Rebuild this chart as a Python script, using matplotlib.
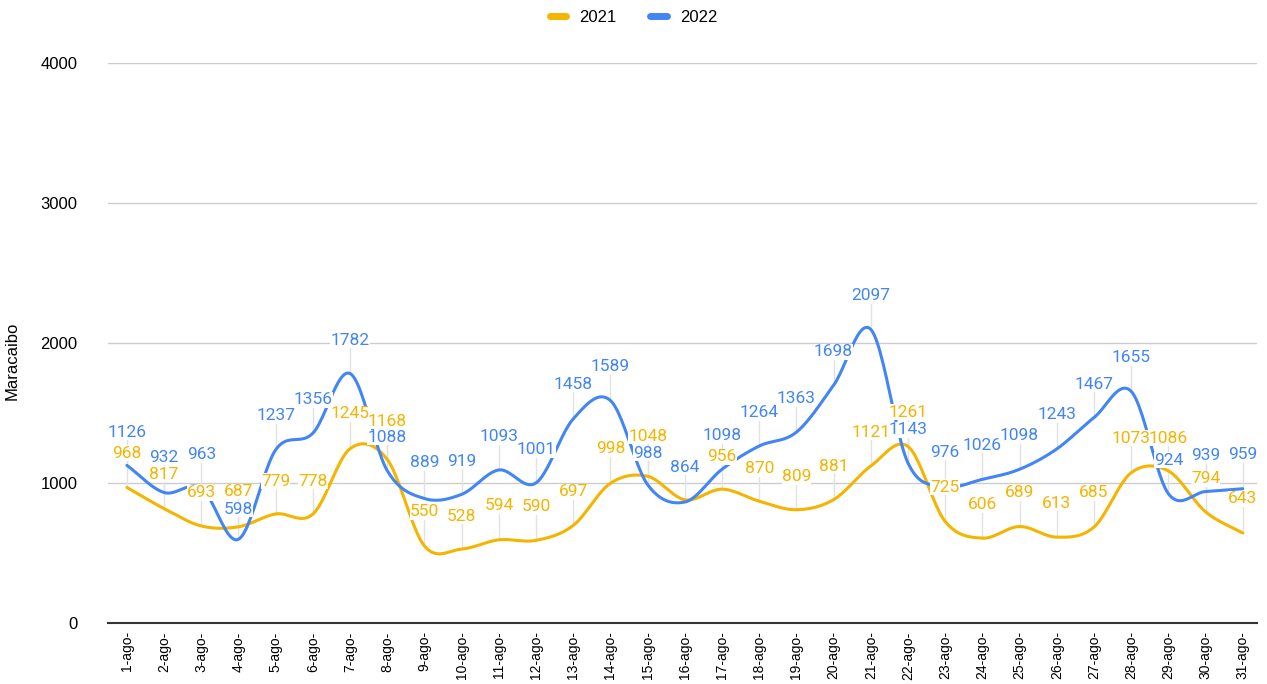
import numpy as np
import matplotlib.pyplot as plt

days = [f"{d}-ago-" for d in range(1, 32)]

vals_2021 = [968, 817, 693, 687, 779, 778, 1245, 1168, 550, 528, 594, 590, 697, 998, 1048,
             880, 956, 870, 809, 881, 1121, 1261, 725, 606, 689, 613, 685, 1073, 1086, 794, 643]
vals_2022 = [1126, 932, 963, 598, 1237, 1356, 1782, 1088, 889, 919, 1093, 1001, 1458, 1589, 988,
             864, 1098, 1264, 1363, 1698, 2097, 1143, 976, 1026, 1098, 1243, 1467, 1655, 924, 939, 959]

# where the chart tool placed each value label (y, in data units); None = label hidden
lab_2021 = [1214, 1064, 929, 940, 1014, 1014, 1493, 1440, 793, 764, 836, 829, 936, 1243, 1335,
            None, 1186, 1100, 1043, 1121, 1364, 1507, 971, 843, 929, 857, 929, 1321, 1321, 1029, 886]
lab_2022 = [1364, 1184, 1200, 810, 1479, 1593, 2021, 1325, 1143, 1157, 1329, 1236, 1707, 1829, 1212,
            1114, 1336, 1500, 1600, 1936, 2336, 1379, 1221, 1271, 1336, 1486, 1707, 1893, 1164, 1193, 1200]

YELLOW = "#F4B400"
BLUE = "#4285F4"


def smooth(x, y, n=24):
    """Catmull-Rom curve through the points, just for drawing."""
    x = np.asarray(x, float)
    y = np.asarray(y, float)
    m = np.gradient(y, x)
    xs, ys = [], []
    for i in range(len(x) - 1):
        t = np.linspace(0, 1, n, endpoint=False)
        h = x[i + 1] - x[i]
        h00 = 2 * t**3 - 3 * t**2 + 1
        h10 = t**3 - 2 * t**2 + t
        h01 = -2 * t**3 + 3 * t**2
        h11 = t**3 - t**2
        xs.append(x[i] + t * h)
        ys.append(h00 * y[i] + h10 * h * m[i] + h01 * y[i + 1] + h11 * h * m[i + 1])
    xs.append([x[-1]])
    ys.append([y[-1]])
    return np.concatenate(xs), np.concatenate(ys)


fig = plt.figure(figsize=(12.67, 6.84), dpi=100)
ax = fig.add_axes([0.0852, 0.0892, 0.9068, 0.8187])

x = np.arange(len(days))

for k, (vals, labs, col, name) in enumerate([(vals_2021, lab_2021, YELLOW, "2021"),
                                              (vals_2022, lab_2022, BLUE, "2022")]):
    sx, sy = smooth(x, vals)
    ax.plot(sx, sy, color=col, lw=2.2, label=name, zorder=3, solid_capstyle="round")
    for xi, v, ly in zip(x, vals, labs):
        if ly is None:
            continue
        if ly - v > 70:
            ax.plot([xi, xi], [v, ly - 45], color="#e2e2e2", lw=1, zorder=1)
        ax.text(xi, ly, str(v), color=col, fontsize=12.5, family="Roboto",
                ha="center", va="center", zorder=5 + k,
                bbox=dict(facecolor="white", edgecolor="none", pad=0.1))

ax.set_xlim(-0.51, 30.38)
ax.set_ylim(0, 4000)
ax.set_yticks([0, 1000, 2000, 3000, 4000])
ax.set_xticks(x)
ax.set_xticklabels(days, rotation=90, fontsize=10, family="Liberation Sans")
ax.tick_params(axis="x", length=0, pad=6)
ax.tick_params(axis="y", length=0, pad=22, labelsize=12)
for lbl in ax.get_yticklabels():
    lbl.set_family("Liberation Sans")
ax.grid(axis="y", color="#cccccc", lw=1)
ax.set_axisbelow(True)
for s in ["top", "right", "left"]:
    ax.spines[s].set_visible(False)
ax.spines["bottom"].set_color("#333333")
ax.spines["bottom"].set_linewidth(1.5)
ax.spines["bottom"].set_zorder(6)

ax.set_ylabel("Maracaibo", fontsize=12, family="Liberation Sans")
ax.yaxis.set_label_coords(-0.0766, 0.468)

fig.legend(loc="upper center", bbox_to_anchor=(0.5, 1.008), ncol=2, frameon=False,
           prop={"family": "Liberation Sans", "size": 12}, handlelength=1.0,
           columnspacing=2.0, handletextpad=0.8)
for line in fig.legends[0].get_lines():
    line.set_linewidth(5)

fig.savefig("out.png", dpi=100)
